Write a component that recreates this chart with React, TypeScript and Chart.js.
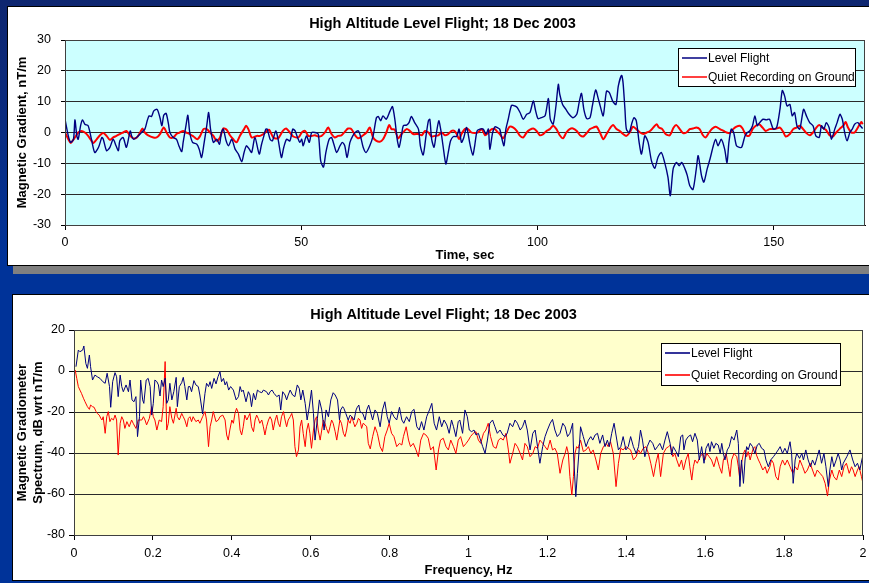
import React, { useEffect, useRef } from "react";
import { Chart, registerables } from "chart.js";

Chart.register(...registerables);

const FONT = '"Liberation Sans", Arial, Helvetica, sans-serif';

// ---------- text ----------
const CHART_TITLE = "High Altitude Level Flight; 18 Dec 2003";
const SERIES_NAMES = ["Level Flight", "Quiet Recording on Ground"];
const TIME_AXIS_TITLE = "Time, sec";
const GRADIENT_AXIS_TITLE = "Magnetic Gradient, nT/m";
const FREQ_AXIS_TITLE = "Frequency, Hz";
const SPECTRUM_AXIS_TITLE = ["Magnetic Gradiometer", "Spectrum, dB wrt nT/m"];

// ---------- axis ranges ----------
const timeRange = [0, 169.3];
const timeStep = 50;
const gradientRange = [-30, 30];
const gradientStep = 10;
const freqRange = [0, 2];
const freqStep = 0.2;
const spectrumRange = [-80, 20];
const spectrumStep = 20;

// ---------- chart 1: time series [sec, nT/m] ----------
const levelFlightGradient: [number, number][] = [
  [0, 4.3], [0.7, -1.1], [1.2, -3.2], [1.8, -2.2], [2.1, 4.1], [2.5, -1.1], [2.8, -2.2], [3.3, 2.2], [3.7, 4.1],
  [4.2, 2.7], [4.9, 2.2], [5.6, -2.2], [6.3, -6.5], [7.1, -4.8], [7.8, -1.6], [8.1, -2.2], [8.8, -5.9], [9.5, -4.8],
  [10.2, -2.2], [10.8, -4.3], [11.3, -5.9], [11.6, -2.7], [12.3, -1.6], [13.0, -4.8], [13.8, 0.5], [14.1, -1.1],
  [14.5, -2.2], [15.5, -1.1], [16.2, 0], [16.9, 1.1], [17.4, 3.8], [17.8, 5.4], [18.3, 5.2], [18.8, 7.0], [19.5, 7.5],
  [20.1, 4.8], [20.5, 2.2], [20.9, 5.6], [21.4, 6.2], [21.9, 2.7], [22.2, 0], [22.9, -1.6], [23.6, -2.2], [24.1, -4.3],
  [24.7, -6.2], [25.0, -3.2], [25.6, 2.2], [26.0, 5.6], [26.4, 0], [27.0, -3.2], [27.9, -3.8], [28.4, -5.4],
  [28.9, -8.1], [29.4, -3.8], [30.0, 2.2], [30.4, 6.5], [30.8, 1.1], [31.4, -3.2], [32.1, -2.2], [32.7, -3.8],
  [33.1, 0], [33.5, 1.1], [34.1, -2.7], [34.6, -4.3], [35.3, -2.2], [36.0, -5.4], [36.7, -7.0], [37.4, -9.5],
  [37.9, -6.5], [38.4, -4.3], [39.0, -5.4], [39.5, -6.5], [40.2, -1.6], [41.1, -7.0], [41.6, -3.8], [42.0, -1.6],
  [42.5, 1.1], [42.8, 1.1], [43.4, -2.2], [43.9, -2.7], [44.6, 0.5], [45.1, -2.2], [45.8, -8.1], [46.3, -4.8],
  [46.9, -2.2], [47.6, -2.7], [48.2, 1.1], [48.7, 0.5], [49.2, -1.6], [49.7, -3.2], [50.1, -2.2], [50.4, -4.3],
  [51.1, -1.1], [51.7, -3.2], [52.2, 0], [52.9, 0], [53.6, -0.5], [54.1, -9.1], [54.7, -11.2], [55.2, -6.5],
  [55.9, -2.2], [56.4, -1.6], [56.9, -3.8], [57.5, -6.5], [58.2, -4.3], [58.7, -3.2], [59.2, -4.3], [59.7, -8.1],
  [60.3, -3.2], [60.9, -1.1], [61.4, 0], [62.1, 0.5], [62.6, -1.6], [63.1, -4.8], [63.7, -6.5], [64.5, -4.3],
  [65.2, -1.1], [65.9, 4.8], [66.3, 5.2], [66.8, 3.8], [67.3, 5.4], [68.0, 4.3], [68.8, 7.0], [69.3, 8.4],
  [69.8, 4.3], [70.3, -2.2], [70.7, -4.8], [71.2, -1.1], [71.6, 2.2], [72.3, 2.4], [72.8, 3.2], [73.3, 5.2],
  [74.0, 3.2], [74.8, 1.1], [75.2, -4.3], [75.8, -7.3], [76.4, -1.1], [76.9, 3.8], [77.2, 4.3], [77.6, -2.2],
  [78.1, -4.8], [78.5, -1.1], [79.1, 3.8], [79.5, 1.1], [80.0, -4.3], [80.6, -10.2], [81.1, -6.5], [81.6, -2.7],
  [82.2, -1.3], [82.9, -1.3], [83.4, 1.1], [83.9, -3.2], [84.4, -1.6], [85.0, 1.6], [85.7, -3.8], [86.3, -7.3],
  [86.7, -4.3], [87.2, 0.5], [87.8, 1.1], [88.5, 1.1], [89.1, -0.5], [89.6, 1.1], [89.9, -5.4], [90.5, 0],
  [91.0, 1.9], [91.5, 1.6], [92.0, 1.1], [92.4, -1.6], [92.9, -4.3], [93.3, 1.1], [93.8, 4.3], [94.5, 8.8],
  [95.2, 8.6], [95.7, 8.1], [96.3, 6.5], [97.0, 4.3], [97.7, 5.9], [98.4, 6.5], [99.1, 10.2], [99.6, 7.0],
  [100.1, 4.5], [100.8, 4.8], [101.6, 5.4], [102.3, 11.0], [102.7, 4.3], [103.3, 2.7], [103.9, 8.6], [104.4, 15.6],
  [104.7, 12.4], [105.3, 9.1], [106.0, 7.5], [106.7, 5.9], [107.5, 4.8], [108.3, 5.9], [108.8, 9.7], [109.3, 12.7],
  [109.8, 7.5], [110.4, 4.5], [111.1, 4.8], [111.6, 8.6], [112.3, 13.8], [112.8, 11.3], [113.3, 8.4], [113.9, 5.4],
  [114.6, 13.4], [115.2, 12.9], [115.9, 10.2], [116.6, 9.1], [117.1, 15.1], [117.8, 18.5], [118.1, 16.1],
  [118.5, 7.5], [118.8, 1.1], [119.4, 0], [119.9, 2.7], [120.4, 4.8], [120.9, 3.8], [121.5, -3.2], [122.0, -7.0],
  [122.7, -1.1], [123.4, -3.2], [124.1, -9.1], [124.8, -11.6], [125.5, -8.0], [126.2, -6.5], [126.9, -9.7],
  [127.6, -14.5], [128.1, -20.5], [128.7, -11.8], [129.4, -9.7], [130.0, -10.8], [130.5, -9.7], [131.2, -11.8],
  [131.7, -14.0], [132.2, -17.2], [132.9, -18.5], [133.6, -11.8], [134.0, -7.5], [134.7, -14.0], [135.2, -16.1],
  [135.9, -11.8], [136.5, -8.6], [137.2, -4.3], [137.7, -2.2], [138.2, -4.3], [138.9, -2.2], [139.6, -5.4],
  [140.1, -9.8], [140.5, -3.2], [141.0, 1.1], [141.5, 0], [142.1, -4.3], [142.7, -4.8], [143.2, -4.8], [143.9, -1.1],
  [144.4, 0], [144.9, 0.5], [145.5, 2.2], [146.0, 5.4], [146.5, 2.2], [147.0, 3.2], [147.7, 4.3], [148.4, 4.1],
  [149.1, 4.3], [149.9, 1.1], [150.6, 1.6], [151.3, 7.5], [151.8, 13.6], [152.3, 11.8], [152.8, 8.6], [153.4, 9.1],
  [153.9, 5.4], [154.4, 6.5], [154.9, 2.2], [155.5, 1.1], [156.3, 7.5], [156.9, 5.4], [157.6, 3.2], [158.3, 2.2],
  [158.9, -1.1], [159.6, -1.6], [160.1, 2.2], [160.6, 1.1], [161.1, 3.2], [161.7, 1.6], [162.2, -2.2], [162.9, 1.1],
  [163.4, 3.2], [164.0, 5.9], [164.5, 4.3], [165.0, 0], [165.5, -2.7], [166.1, 0], [166.6, 1.1], [167.1, 2.7],
  [167.8, 3.2], [168.3, 2.2], [168.8, 1.3],
];

const quietGroundGradient: [number, number][] = [
  [0, 0], [0.7, -2.2], [1.2, -3.4], [2.1, -1.6], [2.8, 0], [3.5, 0.5], [4.2, 0], [4.9, -1.1], [5.6, -2.7], [6.0, -3.4],
  [6.7, -2.2], [7.4, -0.9], [8.1, -0.2], [8.8, -1.1], [9.5, -2.4], [10.2, -1.6], [10.9, -1.1], [11.6, -0.5],
  [12.3, 0], [13.0, 0.5], [13.8, -1.1], [14.5, -1.9], [15.2, -1.6], [15.9, 0], [16.4, 1.3], [16.9, 0], [17.6, -0.9],
  [18.7, -1.6], [19.4, -1.6], [20.1, -0.5], [20.9, 1.6], [21.5, 0], [22.2, -1.6], [22.9, -1.6], [23.6, -0.5],
  [24.3, 0], [25.0, 0.5], [25.6, 0], [26.4, -0.5], [27.2, -1.3], [28.0, -2.2], [28.6, -1.1], [29.3, 1.1], [30.0, 1.1],
  [30.7, 0], [31.4, -1.1], [32.1, -2.7], [32.8, -1.6], [33.5, 1.3], [34.2, 0.9], [34.9, -0.9], [35.6, -2.2],
  [36.3, -3.2], [37.0, -1.1], [37.9, 1.1], [38.3, 2.2], [38.8, 1.1], [39.5, -1.6], [40.6, -1.1], [41.3, -1.1],
  [42.0, -0.5], [42.7, 0.5], [43.2, 0.9], [44.1, -1.6], [45.1, -1.9], [46.1, 0.5], [46.8, 1.3], [47.6, 0],
  [48.3, -1.3], [49.4, -1.6], [50.1, 0], [50.8, 0.5], [51.5, -1.1], [52.2, -1.1], [52.9, -0.9], [53.6, -1.3],
  [54.3, -1.1], [55.0, 0], [55.7, 1.6], [56.4, -0.5], [57.1, -1.6], [57.8, -1.1], [58.5, -0.9], [59.2, 0.2],
  [59.9, 1.3], [60.6, 1.1], [61.4, -0.9], [62.1, -1.9], [63.1, -0.9], [63.8, 0], [64.5, 1.6], [65.2, -1.6],
  [65.9, -2.7], [66.6, -3.0], [67.3, -2.2], [68.0, 0], [68.6, 2.4], [69.1, 1.1], [69.8, 0.9], [70.5, -1.9],
  [71.2, -0.5], [72.3, 1.1], [73.0, 0.5], [73.7, -0.5], [74.8, -0.5], [75.5, -0.9], [76.2, 0.5], [76.9, 0],
  [77.6, -1.3], [78.3, -1.1], [79.0, -0.9], [79.7, 0], [80.4, -0.9], [81.1, -0.5], [81.8, 0.5], [82.4, 0.5],
  [82.9, -0.5], [83.4, -2.2], [83.9, -0.5], [84.6, 1.1], [85.3, 1.1], [86.0, 0], [86.7, -0.2], [87.4, 0],
  [88.2, 1.1], [88.9, -0.9], [89.6, 0], [90.3, 1.1], [91.0, 1.1], [91.5, 0.2], [92.0, -0.5], [92.7, -1.9],
  [93.4, 0], [94.1, 1.9], [94.9, 1.6], [95.6, 0.5], [96.3, -1.1], [97.0, -1.6], [97.7, 0], [98.4, 0.9], [99.1, 1.3],
  [99.8, 0.5], [100.5, -0.9], [101.2, -0.5], [101.9, 0.5], [102.6, 1.1], [103.3, 2.2], [104.0, 1.1], [104.7, -0.9],
  [105.4, -1.9], [106.1, 0], [106.8, 1.1], [107.5, 1.3], [108.3, 0.5], [109.0, -0.9], [109.7, -1.3], [110.4, -0.2],
  [111.1, 1.1], [111.8, 1.6], [112.5, 1.9], [113.2, 0], [113.9, -2.2], [114.6, -0.5], [115.3, 1.3], [116.0, 2.4],
  [116.7, 1.1], [117.4, 0.5], [118.1, -0.5], [118.8, -1.1], [119.5, 0], [120.2, 1.9], [120.9, 1.1], [121.7, 0],
  [122.4, -0.5], [123.1, 0], [123.8, 0.5], [124.5, 1.6], [125.2, 2.7], [125.7, 1.6], [126.4, 1.1], [127.1, -0.5],
  [128.0, -0.9], [128.8, 1.6], [129.4, 2.4], [130.1, 1.1], [130.8, -0.2], [131.5, 0], [132.2, 1.1], [132.9, 1.3],
  [133.6, 1.6], [134.3, 1.1], [135.0, -0.9], [135.6, -1.6], [136.3, 0], [137.0, 1.3], [137.7, 1.9], [138.6, 1.1],
  [139.4, 0.5], [140.0, 0], [140.7, -0.2], [141.4, 1.1], [142.1, 1.9], [142.8, 2.2], [143.4, 1.3], [144.1, -0.9],
  [144.8, -1.1], [145.5, 1.1], [146.2, 2.2], [146.9, 2.7], [147.6, 1.6], [148.3, 0.5], [149.1, 1.1], [149.9, 1.1],
  [150.6, 1.3], [151.3, 1.6], [152.0, 0.2], [152.5, -1.3], [153.4, -0.5], [154.1, 1.1], [154.8, 1.6], [155.5, 2.2],
  [156.2, 1.1], [156.9, -0.2], [157.6, -0.9], [158.3, 0], [159.0, 1.6], [159.6, 2.4], [160.3, 1.6], [161.0, 0.9],
  [161.8, -0.9], [162.5, -1.3], [163.2, 0], [163.9, 1.1], [164.7, 2.2], [165.2, 3.4], [165.7, 1.6], [166.4, 0],
  [167.1, 0], [167.8, 1.6], [168.5, 3.4], [168.8, 2.7],
];

// ---------- chart 2: spectra [Hz, dB] ----------
const levelFlightSpectrum: [number, number][] = [
  [0.005, 2.1], [0.011, 10.2], [0.015, 9.4], [0.022, 10.2], [0.025, 12.2], [0.03, 3.7], [0.034, 1.3], [0.039, 7.8],
  [0.042, 2.1], [0.047, -4.4], [0.053, -2.0], [0.059, -2.8], [0.066, -3.6], [0.073, -5.2], [0.079, -6.0],
  [0.084, -1.1], [0.09, -7.6], [0.093, -17.7], [0.098, -5.2], [0.104, -0.8], [0.108, -2.8], [0.112, -12.5],
  [0.117, -2.0], [0.121, -7.6], [0.125, -10.1], [0.132, -6.8], [0.138, -10.1], [0.142, -4.4], [0.147, -14.1],
  [0.152, -15.0], [0.157, -12.5], [0.161, -32.0], [0.166, -22.3], [0.169, -4.4], [0.174, -14.1], [0.177, -15.8],
  [0.183, -4.4], [0.188, -3.6], [0.193, -7.6], [0.197, -21.5], [0.201, -15.8], [0.205, -4.4], [0.21, -5.2],
  [0.214, -6.8], [0.218, -12.2], [0.222, -4.4], [0.226, -7.6], [0.231, -3.5], [0.235, -15.8], [0.239, -14.1],
  [0.243, -6.0], [0.248, -14.1], [0.253, -10.1], [0.259, -3.1], [0.262, -17.4], [0.267, -7.6], [0.273, -5.7],
  [0.277, -3.1], [0.281, -7.6], [0.286, -14.1], [0.29, -7.6], [0.294, -7.6], [0.298, -10.1], [0.304, -4.7],
  [0.309, -6.8], [0.315, -7.6], [0.319, -11.7], [0.326, -21.0], [0.332, -10.9], [0.336, -6.0], [0.341, -7.6],
  [0.345, -5.2], [0.349, -8.5], [0.355, -3.6], [0.36, -6.3], [0.365, -2.8], [0.37, -0.3], [0.374, -5.2],
  [0.379, -3.6], [0.383, -6.8], [0.387, -5.2], [0.392, -9.3], [0.397, -7.6], [0.404, -9.3], [0.411, -14.1],
  [0.417, -12.5], [0.421, -7.6], [0.425, -10.1], [0.429, -9.3], [0.436, -15.0], [0.442, -10.1], [0.446, -11.7],
  [0.45, -17.4], [0.455, -10.9], [0.46, -14.1], [0.465, -9.3], [0.47, -10.1], [0.476, -10.6], [0.48, -9.3],
  [0.488, -10.1], [0.493, -11.7], [0.497, -10.1], [0.502, -9.3], [0.507, -10.9], [0.514, -12.5], [0.52, -11.7],
  [0.524, -19.0], [0.529, -10.1], [0.535, -11.7], [0.539, -14.1], [0.543, -11.7], [0.548, -9.3], [0.554, -11.7],
  [0.56, -12.5], [0.566, -6.8], [0.571, -8.5], [0.575, -14.1], [0.58, -9.3], [0.586, -15.8], [0.591, -23.9],
  [0.597, -16.6], [0.602, -9.3], [0.607, -20.7], [0.611, -33.7], [0.617, -23.1], [0.622, -14.1], [0.628, -19.0],
  [0.634, -28.8], [0.639, -19.0], [0.645, -22.3], [0.651, -14.1], [0.657, -10.6], [0.662, -11.7], [0.668, -14.1],
  [0.673, -23.9], [0.676, -19.0], [0.681, -17.4], [0.684, -18.2], [0.689, -20.7], [0.695, -23.9], [0.7, -21.5],
  [0.704, -22.3], [0.71, -23.9], [0.715, -19.0], [0.718, -17.7], [0.722, -16.6], [0.725, -19.8], [0.732, -20.7],
  [0.738, -23.9], [0.742, -19.0], [0.747, -16.6], [0.757, -23.9], [0.763, -19.0], [0.769, -20.7], [0.776, -27.2],
  [0.782, -19.0], [0.788, -15.0], [0.794, -22.3], [0.799, -25.5], [0.805, -19.8], [0.811, -22.3], [0.818, -23.9],
  [0.825, -17.7], [0.831, -23.9], [0.836, -25.5], [0.843, -22.3], [0.85, -24.7], [0.856, -19.8], [0.862, -18.7],
  [0.869, -27.2], [0.875, -28.8], [0.881, -24.7], [0.887, -28.8], [0.894, -22.3], [0.901, -19.0], [0.907, -15.8],
  [0.913, -25.5], [0.919, -28.8], [0.926, -22.3], [0.932, -27.2], [0.938, -23.9], [0.945, -26.3], [0.951, -30.4],
  [0.957, -23.9], [0.962, -27.2], [0.968, -32.0], [0.974, -24.7], [0.978, -23.9], [0.985, -30.4], [0.991, -19.0],
  [0.997, -22.3], [1.002, -28.8], [1.008, -29.6], [1.014, -28.8], [1.019, -31.2], [1.025, -30.4], [1.029, -32.8],
  [1.036, -36.9], [1.042, -40.2], [1.048, -33.7], [1.054, -25.5], [1.061, -23.9], [1.067, -27.2], [1.073, -30.4],
  [1.08, -28.8], [1.087, -31.2], [1.093, -32.0], [1.098, -30.4], [1.105, -25.5], [1.112, -27.2], [1.118, -23.9],
  [1.124, -25.5], [1.131, -28.8], [1.137, -27.2], [1.143, -23.9], [1.149, -28.8], [1.156, -38.5], [1.163, -30.4],
  [1.169, -28.8], [1.175, -36.9], [1.181, -45.0], [1.188, -36.9], [1.194, -32.0], [1.2, -28.8], [1.207, -25.5],
  [1.213, -23.6], [1.219, -28.8], [1.225, -32.0], [1.232, -30.4], [1.239, -25.5], [1.245, -27.2], [1.251, -32.0],
  [1.257, -30.4], [1.264, -25.5], [1.267, -43.4], [1.272, -61.3], [1.276, -49.9], [1.281, -36.9], [1.284, -27.2],
  [1.291, -32.0], [1.298, -36.9], [1.304, -33.7], [1.31, -32.0], [1.315, -33.7], [1.321, -31.2], [1.327, -30.4],
  [1.333, -35.3], [1.34, -31.2], [1.346, -36.9], [1.352, -33.7], [1.357, -36.9], [1.363, -30.4], [1.369, -25.5],
  [1.376, -33.7], [1.38, -38.5], [1.386, -36.9], [1.392, -32.0], [1.399, -38.5], [1.405, -36.9], [1.411, -32.0],
  [1.418, -36.9], [1.425, -40.2], [1.431, -36.9], [1.436, -28.8], [1.441, -33.7], [1.447, -41.8], [1.453, -36.9],
  [1.46, -33.7], [1.467, -35.3], [1.473, -38.5], [1.479, -36.9], [1.485, -35.3], [1.492, -38.5], [1.498, -33.7],
  [1.504, -29.6], [1.511, -35.3], [1.515, -41.0], [1.519, -36.9], [1.526, -39.3], [1.532, -41.8], [1.538, -32.0],
  [1.543, -31.2], [1.546, -38.5], [1.551, -33.7], [1.557, -32.0], [1.563, -31.2], [1.568, -34.5], [1.574, -30.4],
  [1.58, -33.7], [1.585, -43.4], [1.591, -36.9], [1.597, -45.0], [1.602, -37.7], [1.608, -35.3], [1.612, -39.3],
  [1.616, -34.5], [1.622, -37.7], [1.627, -35.3], [1.633, -36.1], [1.638, -40.2], [1.642, -35.3], [1.646, -40.2],
  [1.65, -43.4], [1.656, -38.5], [1.661, -36.9], [1.667, -32.0], [1.673, -33.7], [1.68, -28.8], [1.684, -35.3],
  [1.688, -56.4], [1.692, -43.4], [1.697, -54.8], [1.701, -43.4], [1.705, -36.9], [1.709, -38.5], [1.714, -35.3],
  [1.72, -36.9], [1.726, -40.2], [1.732, -36.1], [1.737, -35.3], [1.743, -37.7], [1.749, -38.5], [1.754, -43.4],
  [1.76, -46.7], [1.766, -43.4], [1.773, -41.8], [1.779, -40.2], [1.785, -38.5], [1.79, -36.9], [1.796, -40.2],
  [1.802, -37.7], [1.808, -40.2], [1.815, -34.5], [1.819, -40.2], [1.823, -54.8], [1.828, -43.4], [1.832, -40.2],
  [1.839, -42.6], [1.845, -40.2], [1.849, -43.4], [1.855, -38.5], [1.861, -43.4], [1.867, -46.7], [1.872, -43.4],
  [1.878, -45.9], [1.884, -41.8], [1.889, -38.5], [1.895, -45.0], [1.901, -40.2], [1.906, -46.7], [1.912, -56.4],
  [1.916, -48.3], [1.921, -41.8], [1.926, -46.7], [1.932, -43.4], [1.937, -40.2], [1.942, -43.4], [1.946, -48.3],
  [1.95, -45.0], [1.959, -41.8], [1.967, -38.5], [1.974, -43.4], [1.98, -46.7], [1.986, -45.0], [1.992, -48.3],
  [1.997, -43.4], [2.0, -41.0],
];

const quietGroundSpectrum: [number, number][] = [
  [0.003, 0.5], [0.007, -3.6], [0.011, -7.6], [0.015, -9.3], [0.019, -10.9], [0.024, -13.3], [0.028, -15.0],
  [0.034, -17.4], [0.039, -18.7], [0.042, -16.6], [0.047, -17.4], [0.051, -17.7], [0.056, -19.8], [0.059, -20.7],
  [0.064, -21.5], [0.068, -23.1], [0.071, -23.9], [0.074, -22.3], [0.079, -30.4], [0.083, -22.3], [0.087, -19.8],
  [0.091, -24.7], [0.095, -23.1], [0.1, -23.9], [0.104, -21.5], [0.108, -23.9], [0.112, -41.0], [0.117, -25.5],
  [0.121, -22.3], [0.125, -23.9], [0.129, -28.0], [0.134, -24.7], [0.14, -27.2], [0.146, -23.9], [0.15, -25.5],
  [0.157, -28.0], [0.163, -23.9], [0.167, -23.9], [0.172, -23.9], [0.176, -22.3], [0.18, -23.9], [0.184, -26.3],
  [0.191, -23.1], [0.197, -17.4], [0.201, -22.3], [0.205, -23.9], [0.21, -28.8], [0.216, -23.9], [0.222, -24.7],
  [0.226, -17.4], [0.231, 4.6], [0.235, -28.8], [0.239, -25.5], [0.243, -17.4], [0.248, -23.1], [0.252, -25.5],
  [0.259, -18.2], [0.262, -22.3], [0.267, -23.9], [0.273, -20.7], [0.277, -22.3], [0.281, -23.9], [0.286, -27.2],
  [0.29, -23.1], [0.294, -22.3], [0.298, -24.7], [0.302, -22.3], [0.309, -24.7], [0.315, -23.9], [0.319, -25.5],
  [0.326, -22.3], [0.332, -19.8], [0.336, -23.9], [0.341, -36.9], [0.345, -27.2], [0.349, -23.9], [0.353, -19.8],
  [0.36, -24.7], [0.366, -23.9], [0.37, -22.3], [0.377, -21.5], [0.383, -23.9], [0.387, -31.2], [0.391, -33.7],
  [0.395, -28.8], [0.4, -23.9], [0.404, -25.5], [0.408, -20.7], [0.412, -18.2], [0.417, -20.7], [0.421, -28.8],
  [0.425, -31.2], [0.429, -27.2], [0.433, -21.5], [0.438, -23.9], [0.442, -22.3], [0.446, -20.7], [0.45, -27.2],
  [0.455, -29.6], [0.459, -23.9], [0.463, -21.5], [0.467, -23.1], [0.471, -25.5], [0.476, -23.9], [0.48, -27.2],
  [0.484, -31.2], [0.488, -27.2], [0.493, -23.9], [0.497, -22.3], [0.501, -23.9], [0.505, -28.8], [0.51, -23.9],
  [0.514, -21.5], [0.518, -25.5], [0.522, -27.2], [0.526, -22.3], [0.531, -19.8], [0.535, -23.9], [0.539, -27.2],
  [0.543, -23.9], [0.548, -22.3], [0.552, -20.7], [0.556, -23.9], [0.56, -36.9], [0.564, -41.8], [0.569, -38.5],
  [0.573, -27.2], [0.577, -23.9], [0.581, -30.4], [0.586, -36.9], [0.59, -28.8], [0.594, -25.5], [0.598, -30.4],
  [0.602, -37.7], [0.607, -28.8], [0.611, -23.9], [0.615, -22.3], [0.619, -28.8], [0.624, -33.7], [0.628, -28.8],
  [0.632, -23.9], [0.636, -25.5], [0.64, -28.0], [0.645, -30.4], [0.649, -27.2], [0.653, -23.9], [0.657, -25.5],
  [0.662, -29.6], [0.666, -33.7], [0.67, -28.8], [0.674, -23.9], [0.678, -25.5], [0.683, -30.4], [0.687, -32.0],
  [0.691, -28.8], [0.695, -23.9], [0.7, -25.5], [0.704, -22.3], [0.708, -24.7], [0.712, -27.2], [0.717, -25.5],
  [0.721, -23.1], [0.725, -23.9], [0.729, -28.0], [0.733, -25.5], [0.738, -26.3], [0.742, -27.2], [0.746, -35.3],
  [0.751, -38.0], [0.757, -32.0], [0.763, -27.2], [0.769, -30.4], [0.776, -36.9], [0.782, -39.3], [0.788, -32.0],
  [0.794, -28.8], [0.799, -25.5], [0.805, -30.4], [0.811, -32.0], [0.818, -36.9], [0.825, -35.3], [0.831, -36.1],
  [0.835, -32.0], [0.842, -27.2], [0.848, -33.7], [0.853, -36.9], [0.86, -35.3], [0.867, -38.5], [0.873, -41.8],
  [0.879, -33.7], [0.886, -30.4], [0.892, -31.2], [0.898, -32.8], [0.904, -38.5], [0.911, -36.9], [0.918, -48.3],
  [0.924, -38.5], [0.929, -33.7], [0.936, -32.8], [0.943, -36.9], [0.949, -38.5], [0.955, -33.7], [0.962, -36.9],
  [0.968, -40.2], [0.974, -33.7], [0.98, -32.0], [0.987, -36.9], [0.994, -35.3], [1.0, -33.7], [1.005, -32.0],
  [1.012, -30.4], [1.019, -29.6], [1.025, -33.7], [1.031, -35.3], [1.038, -30.4], [1.044, -28.8], [1.05, -25.5],
  [1.056, -32.0], [1.063, -36.9], [1.07, -37.7], [1.076, -33.7], [1.082, -32.8], [1.088, -33.7], [1.095, -30.4],
  [1.101, -38.5], [1.105, -45.0], [1.112, -40.2], [1.118, -35.3], [1.124, -36.9], [1.131, -40.2], [1.137, -43.4],
  [1.143, -35.3], [1.149, -36.9], [1.156, -41.8], [1.163, -40.2], [1.169, -36.9], [1.175, -37.7], [1.181, -33.7],
  [1.188, -35.3], [1.194, -36.9], [1.2, -38.5], [1.207, -33.7], [1.213, -38.5], [1.219, -37.7], [1.225, -40.2],
  [1.232, -49.9], [1.239, -43.4], [1.245, -40.2], [1.249, -36.9], [1.253, -40.2], [1.257, -51.5], [1.262, -60.5],
  [1.266, -51.5], [1.27, -40.2], [1.274, -36.9], [1.278, -37.7], [1.284, -33.7], [1.291, -39.3], [1.298, -38.5],
  [1.304, -36.9], [1.31, -40.2], [1.316, -38.5], [1.323, -43.4], [1.329, -48.3], [1.335, -40.2], [1.342, -36.9],
  [1.349, -35.3], [1.354, -36.9], [1.36, -34.5], [1.367, -40.2], [1.374, -56.4], [1.38, -45.0], [1.386, -37.7],
  [1.392, -38.5], [1.399, -36.9], [1.405, -37.7], [1.411, -38.5], [1.418, -43.4], [1.425, -41.8], [1.431, -38.5],
  [1.436, -40.2], [1.443, -37.7], [1.45, -36.9], [1.456, -40.2], [1.462, -45.0], [1.469, -51.5], [1.475, -45.0],
  [1.481, -40.2], [1.487, -51.5], [1.494, -40.2], [1.501, -37.7], [1.507, -36.9], [1.512, -36.1], [1.518, -41.8],
  [1.523, -40.2], [1.528, -43.4], [1.534, -46.7], [1.54, -43.4], [1.545, -48.3], [1.551, -43.4], [1.557, -40.2],
  [1.561, -46.7], [1.566, -53.2], [1.57, -46.7], [1.574, -43.4], [1.58, -45.0], [1.587, -41.8], [1.594, -40.2],
  [1.599, -43.4], [1.604, -40.2], [1.61, -41.8], [1.616, -43.4], [1.622, -46.7], [1.629, -41.8], [1.636, -46.7],
  [1.642, -49.9], [1.646, -43.4], [1.653, -40.2], [1.659, -46.7], [1.663, -51.5], [1.667, -43.4], [1.673, -40.2],
  [1.68, -41.8], [1.684, -46.7], [1.688, -53.2], [1.692, -45.0], [1.697, -40.2], [1.701, -38.5], [1.705, -41.8],
  [1.709, -39.3], [1.714, -43.4], [1.718, -40.2], [1.722, -37.7], [1.726, -36.9], [1.73, -41.0], [1.735, -43.4],
  [1.739, -45.0], [1.746, -48.3], [1.752, -46.7], [1.757, -49.9], [1.764, -46.7], [1.768, -43.4], [1.773, -45.0],
  [1.779, -51.5], [1.785, -53.2], [1.79, -46.7], [1.796, -43.4], [1.802, -45.9], [1.808, -43.4], [1.815, -46.7],
  [1.822, -49.9], [1.828, -46.7], [1.834, -48.3], [1.84, -43.4], [1.847, -46.7], [1.853, -49.9], [1.859, -48.3],
  [1.866, -45.0], [1.872, -48.3], [1.878, -51.5], [1.884, -48.3], [1.891, -49.9], [1.898, -51.5], [1.904, -54.8],
  [1.91, -61.0], [1.915, -53.2], [1.921, -48.3], [1.926, -51.5], [1.933, -53.2], [1.94, -48.3], [1.946, -51.5],
  [1.952, -46.7], [1.958, -45.0], [1.965, -49.9], [1.971, -46.7], [1.975, -48.3], [1.98, -51.5], [1.986, -48.3],
  [1.99, -46.7], [1.996, -51.5], [2.0, -54.8],
];

// ---------- helpers ----------
const toXY = (pts: [number, number][]) => pts.map(([x, y]) => ({ x, y }));
const fmt = (v: number | string) => String(+Number(v).toFixed(2));

type LegendCfg = { dx: number; dy: number; w: number; h: number; rows: number[]; lineFrom: number; lineTo: number; textX: number; lineWidth: number };

function decorPlugin(bg: string, titleX: number, titleY: number, legend: LegendCfg) {
  return {
    id: "decor",
    beforeDraw(chart: any) {
      const { ctx, chartArea: a } = chart;
      ctx.save();
      ctx.fillStyle = bg;
      ctx.fillRect(a.left, a.top, a.right - a.left, a.bottom - a.top);
      ctx.restore();
    },
    afterDraw(chart: any) {
      const { ctx, chartArea: a } = chart;
      ctx.save();
      ctx.strokeStyle = "#404040";
      ctx.lineWidth = 1;
      ctx.strokeRect(Math.round(a.left) + 0.5, Math.round(a.top) + 0.5, Math.round(a.right - a.left) - 1, Math.round(a.bottom - a.top));
      ctx.fillStyle = "#000";
      ctx.font = `bold 14.5px ${FONT}`;
      ctx.textAlign = "center";
      ctx.textBaseline = "middle";
      ctx.fillText(CHART_TITLE, titleX, titleY);
      const x0 = Math.round(a.right - legend.dx - legend.w);
      const y0 = Math.round(a.top + legend.dy);
      ctx.fillStyle = "#fff";
      ctx.fillRect(x0, y0, legend.w, legend.h);
      ctx.strokeStyle = "#000";
      ctx.lineWidth = 1;
      ctx.strokeRect(x0 + 0.5, y0 + 0.5, legend.w - 1, legend.h - 1);
      chart.data.datasets.forEach((ds: any, i: number) => {
        const y = y0 + legend.rows[i];
        ctx.strokeStyle = ds.borderColor;
        ctx.lineWidth = legend.lineWidth;
        ctx.beginPath();
        ctx.moveTo(x0 + legend.lineFrom, y);
        ctx.lineTo(x0 + legend.lineTo, y);
        ctx.stroke();
        ctx.fillStyle = "#000";
        ctx.font = `12px ${FONT}`;
        ctx.textAlign = "left";
        ctx.textBaseline = "middle";
        ctx.fillText(ds.label, x0 + legend.textX, y + 1);
      });
      ctx.restore();
    },
  };
}

const tickFont = { family: FONT, size: 12.5 };
const axisTitleFont = { family: FONT, size: 13, weight: "bold" as const };

function timeChartConfig(): any {
  return {
    type: "line",
    data: {
      datasets: [
        { label: SERIES_NAMES[0], data: toXY(levelFlightGradient), borderColor: "#000080", borderWidth: 1.4, pointRadius: 0, tension: 0.25, fill: false },
        { label: SERIES_NAMES[1], data: toXY(quietGroundGradient), borderColor: "#ff0000", borderWidth: 2, pointRadius: 0, tension: 0.25, fill: false },
      ],
    },
    options: {
      animation: false,
      responsive: false,
      layout: { padding: { left: 0, right: 21, top: 33, bottom: 0 } },
      plugins: { legend: { display: false }, title: { display: false }, tooltip: { enabled: false } },
      scales: {
        x: {
          type: "linear",
          min: timeRange[0],
          max: timeRange[1],
          ticks: { stepSize: timeStep, includeBounds: false, font: tickFont, color: "#000", padding: 5, maxRotation: 0, callback: fmt },
          grid: { drawOnChartArea: false, drawTicks: true, tickLength: 5, tickColor: "#000" },
          border: { display: true, color: "#000" },
          title: { display: true, text: TIME_AXIS_TITLE, font: axisTitleFont, color: "#000", padding: { top: 0, bottom: 2.2 } },
          afterFit: (s: any) => { s.height = 40; },
        },
        y: {
          type: "linear",
          min: gradientRange[0],
          max: gradientRange[1],
          ticks: { stepSize: gradientStep, font: tickFont, color: "#000", padding: 10, callback: fmt },
          grid: { color: "#2a2a2a", drawTicks: true, tickLength: 4, tickColor: "#000" },
          border: { display: true, color: "#000" },
          title: { display: true, text: GRADIENT_AXIS_TITLE, font: axisTitleFont, color: "#000", padding: { top: 6.2, bottom: 0 } },
          afterFit: (s: any) => { s.width = 57; },
        },
      },
    },
    plugins: [decorPlugin("#ccffff", 434.5, 17.3, { dx: 9, dy: 8, w: 178, h: 39, rows: [10, 29], lineFrom: 4, lineTo: 29, textX: 30, lineWidth: 1.5 })],
  };
}

function spectrumChartConfig(): any {
  return {
    type: "line",
    data: {
      datasets: [
        { label: SERIES_NAMES[0], data: toXY(levelFlightSpectrum), borderColor: "#000080", borderWidth: 1, pointRadius: 0, tension: 0, fill: false },
        { label: SERIES_NAMES[1], data: toXY(quietGroundSpectrum), borderColor: "#ff0000", borderWidth: 1, pointRadius: 0, tension: 0, fill: false },
      ],
    },
    options: {
      animation: false,
      responsive: false,
      layout: { padding: { left: 0, right: 28, top: 35, bottom: 0 } },
      plugins: { legend: { display: false }, title: { display: false }, tooltip: { enabled: false } },
      scales: {
        x: {
          type: "linear",
          min: freqRange[0],
          max: freqRange[1],
          ticks: { stepSize: freqStep, font: tickFont, color: "#000", padding: 6, maxRotation: 0, autoSkip: false, callback: fmt },
          grid: { drawOnChartArea: false, drawTicks: true, tickLength: 5, tickColor: "#000" },
          border: { display: true, color: "#000" },
          title: { display: true, text: FREQ_AXIS_TITLE, font: axisTitleFont, color: "#000", padding: { top: 0, bottom: 2.2 } },
          afterFit: (s: any) => { s.height = 45; },
        },
        y: {
          type: "linear",
          min: spectrumRange[0],
          max: spectrumRange[1],
          ticks: { stepSize: spectrumStep, font: tickFont, color: "#000", padding: 4, callback: fmt },
          grid: { color: "#2a2a2a", drawTicks: true, tickLength: 5, tickColor: "#000" },
          border: { display: true, color: "#000" },
          title: { display: true, text: SPECTRUM_AXIS_TITLE, font: { ...axisTitleFont, lineHeight: "16px" }, color: "#000", padding: { top: 1, bottom: 0 } },
          afterFit: (s: any) => { s.width = 61; },
        },
      },
    },
    plugins: [decorPlugin("#ffffcc", 430.5, 20, { dx: 22, dy: 13, w: 180, h: 43, rows: [10, 32], lineFrom: 4, lineTo: 29, textX: 30, lineWidth: 1.6 })],
  };
}

function ChartCanvas({ width, height, makeConfig }: { width: number; height: number; makeConfig: () => any }) {
  const ref = useRef<HTMLCanvasElement>(null);
  useEffect(() => {
    if (!ref.current) return;
    const chart = new Chart(ref.current, makeConfig());
    return () => chart.destroy();
  }, [makeConfig]);
  return <canvas ref={ref} width={width} height={height} style={{ display: "block", width, height }} />;
}

export default function App() {
  return (
    <div
      style={{
        position: "absolute",
        left: 0,
        top: 0,
        width: 869,
        height: 583,
        overflow: "hidden",
        background: "linear-gradient(180deg, #0e2670 0px, #0a2b80 120px, #003399 260px, #003399 583px)",
      }}
    >
      <div style={{ position: "absolute", left: 13, top: 266, width: 880, height: 8, background: "#808080" }} />
      <div style={{ position: "absolute", left: 7, top: 6, width: 880, height: 260, background: "#fff", border: "1px solid #000", boxSizing: "border-box" }}>
        <ChartCanvas width={878} height={258} makeConfig={timeChartConfig} />
      </div>
      <div style={{ position: "absolute", left: 12, top: 294, width: 880, height: 287, background: "#fff", border: "1px solid #000", boxSizing: "border-box" }}>
        <ChartCanvas width={878} height={285} makeConfig={spectrumChartConfig} />
      </div>
    </div>
  );
}
